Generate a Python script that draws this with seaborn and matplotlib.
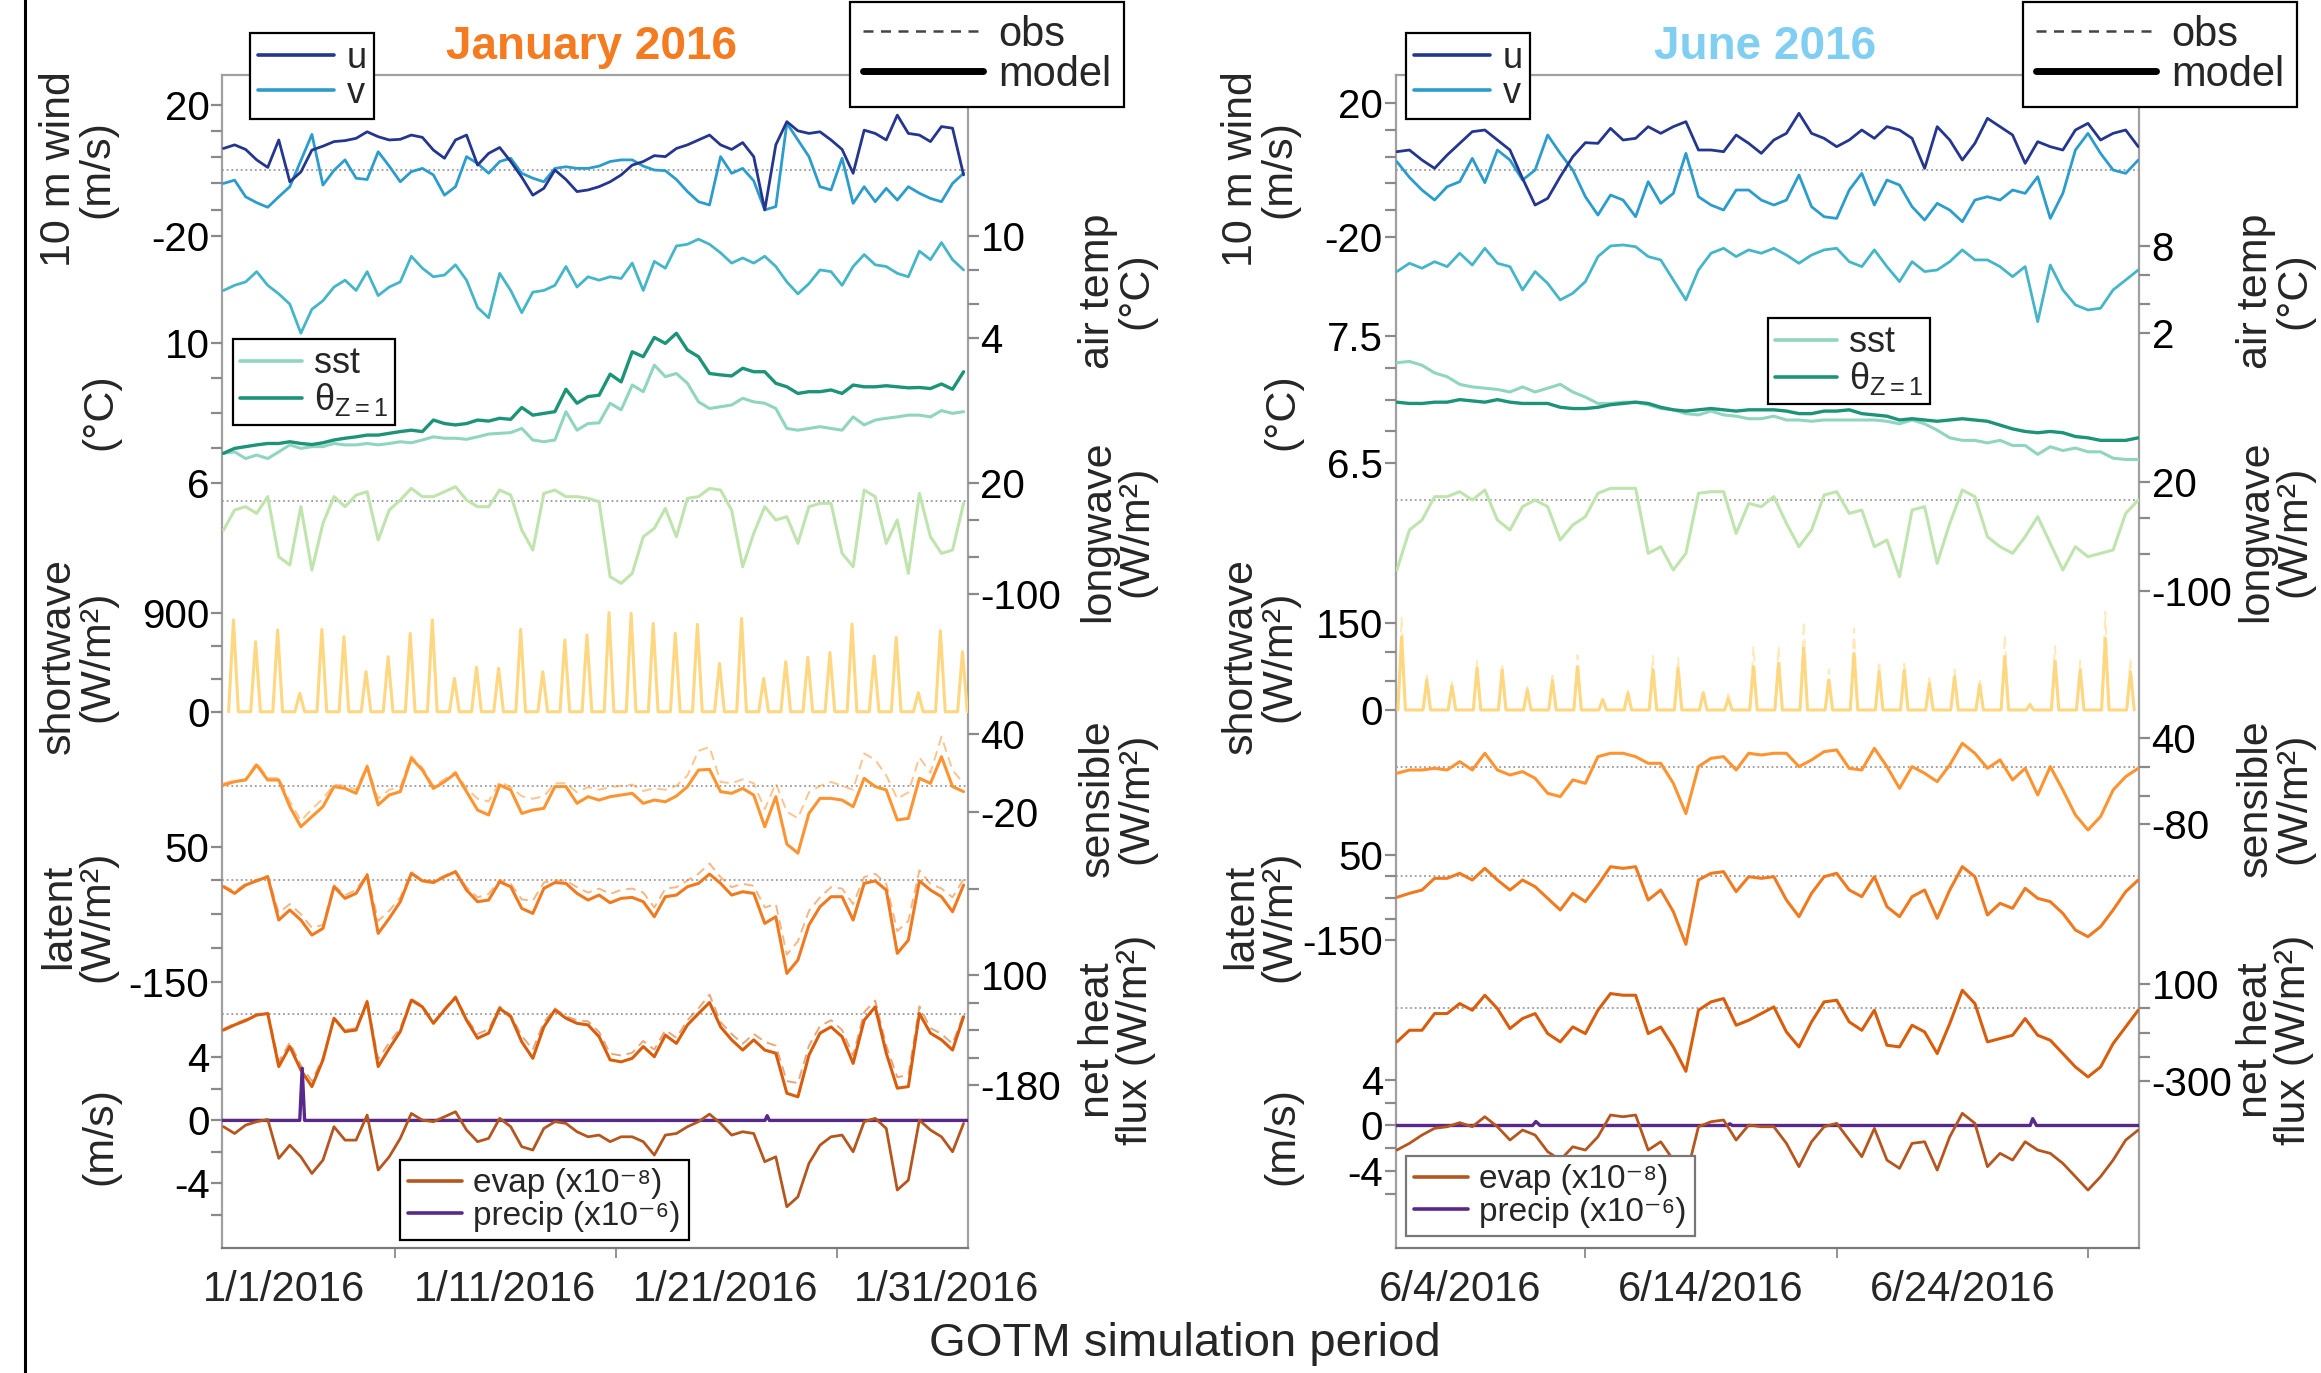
import numpy as np
import matplotlib
matplotlib.use("Agg")
import matplotlib.pyplot as plt
import seaborn as sns
from matplotlib.lines import Line2D

sns.set_theme(style="white")
plt.rcParams['font.family'] = ['Liberation Sans', 'DejaVu Sans']
plt.rcParams['axes.unicode_minus'] = False
plt.rcParams['mathtext.fontset'] = 'custom'
plt.rcParams['mathtext.rm'] = 'Liberation Sans'
plt.rcParams['mathtext.it'] = 'Liberation Sans:italic'

# ------------------------------------------------------------------ DATA
# January 2016 (days since 2016-01-01 00:00, 12-hourly)
t_jan = np.arange(68) * 0.5 - 2.75
u_jan = [6.7, 7.8, 6.4, 3.2, 0.9, 9.3, -3.5, -0.5, 6.2, 7.4, 8.8, 9.1, 9.8, 11.8, 10.3, 9.3, 9.5, 10.8, 10.1, 6.2,
         3.7, 9.3, 10.8, 1.6, 5.2, 7.0, 2.7, -2.1, -7.6, -5.5, 0.1, -2.8, -6.5, -6.0, -5.0, -3.5, -1.4, 1.6, 2.7, 4.5,
         4.2, 6.7, 7.8, 9.3, 10.8, 7.8, 6.4, 8.5, 4.2, -12.1, 7.8, 14.9, 12.1, 11.3, 11.8, 9.3, 6.4, -0.9, 12.3, 11.3,
         9.3, 16.9, 11.3, 10.8, 8.8, 13.4, 12.9, -1.4]
v_jan = [-4.0, -3.0, -8.1, -9.9, -11.3, -8.1, -5.0, 3.0, 11.0, -4.5, 0.0, 3.2, -2.4, -2.8, 5.7, 1.3, -3.5, -0.4, 0.6, -1.4,
         -7.6, -5.0, 4.2, 2.1, -0.9, 2.7, 3.7, -0.9, -2.4, -3.5, 0.6, 1.1, 0.6, 0.6, 1.3, 2.7, 3.2, 3.2, 1.3, 0.1,
         -0.1, -2.8, -6.5, -9.6, -10.6, 4.2, -0.9, 0.6, -3.2, -12.1, -11.1, 14.4, 9.3, 4.2, -5.0, -6.0, 3.7, -10.1, -5.0, -9.6,
         -5.5, -9.1, -5.0, -7.0, -8.6, -9.6, -4.0, -0.9]
airt_jan = [6.8, 7.1, 7.3, 7.9, 7.1, 6.6, 6.0, 4.3, 5.7, 6.2, 7.0, 7.4, 6.8, 7.9, 6.5, 7.0, 7.3, 8.8, 8.1, 7.6,
            7.7, 8.3, 7.4, 5.8, 5.2, 7.8, 6.8, 5.5, 6.7, 6.8, 7.1, 8.2, 7.0, 7.6, 7.4, 7.6, 7.5, 8.4, 6.8, 8.5,
            8.1, 9.4, 9.5, 9.8, 9.5, 9.0, 8.4, 8.7, 8.4, 8.8, 8.2, 7.3, 6.6, 7.2, 8.0, 7.9, 7.1, 8.2, 8.9, 8.3,
            8.2, 7.8, 7.6, 9.1, 8.6, 9.6, 8.6, 8.0]
sst_jan = [6.86, 6.90, 6.71, 6.81, 6.71, 6.90, 7.10, 7.00, 7.05, 7.05, 7.14, 7.10, 7.10, 7.14, 7.10, 7.14, 7.19, 7.16, 7.24, 7.33,
           7.29, 7.29, 7.26, 7.33, 7.41, 7.43, 7.45, 7.57, 7.24, 7.19, 7.24, 8.05, 7.52, 7.71, 7.73, 8.29, 8.10, 8.81, 8.62, 9.38,
           9.05, 9.14, 8.86, 8.33, 8.14, 8.19, 8.24, 8.43, 8.33, 8.29, 8.14, 7.57, 7.52, 7.57, 7.62, 7.57, 7.52, 7.90, 7.67, 7.81,
           7.86, 7.90, 7.95, 7.95, 7.90, 8.08, 8.00, 8.05]
theta_jan = [6.86, 7.00, 7.05, 7.10, 7.14, 7.14, 7.19, 7.14, 7.11, 7.16, 7.24, 7.29, 7.33, 7.38, 7.38, 7.43, 7.48, 7.52, 7.48, 7.81,
             7.71, 7.67, 7.71, 7.81, 7.78, 7.86, 7.83, 8.17, 7.95, 8.00, 8.05, 8.69, 8.29, 8.48, 8.52, 9.12, 8.90, 9.76, 9.62, 10.17,
             10.00, 10.29, 9.81, 9.62, 9.14, 9.10, 9.07, 9.29, 9.19, 9.19, 8.86, 8.76, 8.57, 8.62, 8.62, 8.67, 8.57, 8.81, 8.76, 8.76,
             8.79, 8.76, 8.73, 8.74, 8.71, 8.84, 8.69, 9.19]
lw_jan = [-30.9, -9.4, -5.8, -13.0, 5.0, -59.6, -68.5, -5.8, -73.9, -23.7, 5.0, -5.8, 6.7, 10.3, -41.6, -9.4, 1.4, 13.9, 5.0, 5.0,
          10.3, 15.7, 1.4, -5.8, -5.8, 12.1, 6.7, -30.9, -52.4, 8.5, 12.1, 5.0, 5.0, 3.2, -0.4, -81.1, -88.2, -77.5, -38.1, -29.1,
          -7.6, -38.1, 3.2, 5.0, 13.9, 12.1, -9.4, -70.3, -34.5, -5.8, -20.1, -16.6, -45.2, -5.8, -2.2, -2.2, -56.0, -70.3, 12.1, 5.0,
          -45.2, -20.1, -77.5, 8.5, -38.1, -56.0, -52.4, -2.2]
sw_jan_peak_day = np.arange(34) - 2.3
sw_jan_peak = [839, 640, 747, 168, 753, 686, 366, 503, 717, 839, 305, 406, 397, 753, 366, 656, 702, 906, 900, 808,
               717, 799, 442, 854, 305, 458, 497, 540, 802, 509, 680, 174, 741, 549]
sens_jan = [0.6, 3.2, 4.5, 16.1, 4.5, 4.5, -16.1, -31.6, -23.8, -16.1, -0.6, -2.0, -5.8, 14.8, -14.8, -7.1, -4.5, 21.2, 12.2, -2.0,
            3.2, 9.6, -4.5, -18.7, -22.5, 0.6, -3.2, -21.3, -18.7, -17.4, -0.6, -0.6, -13.5, -8.4, -11.0, -8.4, -7.1, -5.8, -13.5, -11.0,
            -12.3, -7.9, -0.6, 12.2, 12.7, -4.5, -5.8, -2.0, -7.1, -31.6, -8.4, -45.0, -52.0, -21.3, -9.7, -9.7, -11.0, -16.1, 5.8, -0.6,
            -3.2, -26.4, -25.1, 5.8, 1.9, 22.5, -0.6, -4.5]
sens_obs_jan = [2, 4, 5, 18, 6, 6, -12, -27, -18, -10, 1, 0, -3, 16, -10, -3, -1, 23, 14, 0,
                5, 11, -2, -10, -12, 3, -1, -8, -10, -8, 2, 2, -5, -1, -3, -1, 0, 1, -4, -2,
                -3, 0, 8, 27, 30, 3, 2, 5, 2, -18, 2, -20, -25, -5, 0, 3, 0, -3, 25, 20,
                8, -10, -5, 22, 10, 38, 12, 2]
lat_jan = [-9.3, -19.1, -6.8, -0.6, 5.6, -58.6, -43.8, -58.6, -80.9, -71.0, -9.3, -26.5, -19.1, 8.0, -78.4, -56.2, -31.5, 10.5, -0.6, -3.1,
           5.6, 13.0, -14.2, -31.5, -29.0, -1.9, -9.3, -41.4, -48.8, -11.7, -3.1, -4.3, -19.1, -29.0, -21.6, -33.0, -26.5, -25.1, -31.5, -53.7,
           -24.1, -21.6, -9.3, -4.3, 9.5, -4.3, -21.6, -16.7, -19.1, -63.6, -53.7, -137.7, -117.9, -66.0, -38.9, -24.1, -24.1, -58.6, -4.3, -0.6,
           -14.2, -108.0, -88.3, -0.6, -14.2, -24.1, -46.3, -6.8]
lat_obs_jan = [-8, -16, -5, 1, 7, -48, -35, -50, -70, -66, -7, -22, -14, 10, -60, -45, -25, 12, 1, -1,
               7, 14, -10, -25, -20, 1, -5, -28, -30, -3, 0, 0, -10, -18, -12, -20, -14, -12, -18, -40,
               -12, -10, 0, 10, 25, 5, -10, -5, -8, -40, -35, -110, -90, -45, -25, -10, -12, -35, 5, 10,
               -5, -75, -60, 15, -5, -12, -25, 2]
net_jan = [-40, -27, -16, -2, 2, -133, -82, -142, -184, -116, -10, -44, -40, 32, -133, -87, -44, 36, 19, -23,
           11, 43, -15, -61, -48, 15, -6, -70, -112, -32, 11, -10, -23, -27, -57, -116, -121, -112, -82, -108,
           -53, -74, -27, 2, 30, -32, -65, -91, -65, -91, -99, -201, -210, -104, -48, -32, -57, -125, -15, 19,
           -99, -188, -184, 2, -48, -65, -91, -6]
net_obs_jan = [-37, -24, -13, 0, 4, -120, -72, -130, -170, -110, -8, -40, -35, 35, -115, -72, -35, 40, 22, -20,
               14, 46, -10, -50, -38, 20, -2, -55, -90, -20, 15, -5, -15, -18, -45, -100, -105, -98, -68, -90,
               -40, -60, -15, 15, 50, -20, -50, -75, -50, -70, -80, -170, -175, -80, -30, -15, -40, -105, 5, 35,
               -80, -160, -155, 20, -35, -50, -75, 0]
evap_jan = [-0.40, -0.83, -0.30, -0.08, 0.06, -2.41, -1.57, -2.31, -3.37, -2.52, -0.40, -1.25, -1.25, 0.34, -3.15, -2.31, -1.14, 0.44, 0.02, -0.08,
            0.23, 0.55, -0.61, -1.35, -1.14, 0.13, -0.40, -1.67, -1.88, -0.51, -0.08, -0.19, -0.72, -1.04, -0.93, -1.35, -1.04, -1.04, -1.35, -2.20,
            -0.93, -0.83, -0.40, -0.08, 0.40, -0.19, -0.93, -0.72, -0.83, -2.62, -2.31, -5.48, -4.85, -2.73, -1.57, -1.04, -0.93, -1.99, -0.08, 0.13,
            -0.51, -4.42, -3.79, 0.02, -0.61, -1.04, -1.99, -0.19]
precip_jan_t = [-2.82, 0.70, 0.81, 0.92, 21.76, 21.86, 21.96, 30.95]
precip_jan = [0, 0, 3.3, 0, 0, 0.3, 0, 0]

# June 2016 (days since 2016-06-01 00:00, 12-hourly)
t_jun = np.arange(60) * 0.5 + 0.5
u_jun = [5.5, 6.0, 3.0, 0.5, 4.5, 8.0, 11.5, 12.0, 9.0, 6.0, -2.5, -10.5, -8.5, -2.0, 4.0, 8.2, 8.0, 12.5, 9.0, 9.5,
         13.0, 11.0, 13.0, 14.5, 6.0, 6.0, 5.5, 10.5, 8.0, 5.0, 9.0, 11.0, 17.0, 11.0, 9.5, 7.0, 9.0, 12.0, 9.5, 13.0,
         12.0, 9.5, 0.5, 13.0, 9.0, 3.0, 8.0, 15.5, 13.0, 10.5, 2.0, 8.5, 7.0, 6.0, 12.0, 14.0, 9.0, 11.0, 12.0, 7.0]
v_jun = [2.5, -2.2, -6.0, -9.0, -5.0, -3.5, 3.5, -3.8, 6.0, 3.0, -3.0, 0.0, 10.5, 5.0, 0.0, -8.0, -13.5, -7.5, -9.0, -14.0,
         -3.5, -10.0, -7.0, 5.0, -8.0, -10.5, -12.0, -6.0, -6.0, -9.0, -10.5, -9.0, -1.5, -11.0, -14.0, -14.5, -6.0, -1.0, -10.5, -3.0,
         -4.5, -11.0, -15.0, -10.0, -12.0, -15.5, -9.0, -8.0, -9.0, -6.0, -7.0, -2.0, -14.5, -7.0, 6.0, 11.0, 5.0, 0.0, -1.0, 3.0]
airt_jun = [6.24, 6.81, 6.47, 6.92, 6.58, 7.50, 6.69, 7.84, 6.81, 6.58, 4.98, 6.24, 5.43, 4.29, 4.75, 5.55, 7.27, 8.00, 8.07, 7.95,
            7.27, 7.04, 5.66, 4.29, 6.35, 7.50, 7.84, 7.27, 7.73, 7.50, 7.84, 7.38, 6.81, 7.38, 7.73, 7.84, 6.92, 6.58, 7.73, 6.58,
            5.55, 6.92, 6.24, 6.35, 6.92, 7.73, 7.04, 7.04, 6.58, 5.89, 6.58, 2.8, 6.69, 4.98, 3.95, 3.60, 3.72, 4.98, 5.66, 6.35]
sst_jun = [7.29, 7.30, 7.27, 7.21, 7.18, 7.12, 7.10, 7.09, 7.08, 7.06, 7.10, 7.06, 7.09, 7.12, 7.06, 7.02, 6.97, 6.97, 6.98, 6.98,
           6.96, 6.93, 6.92, 6.89, 6.88, 6.91, 6.88, 6.87, 6.85, 6.85, 6.87, 6.84, 6.84, 6.83, 6.84, 6.84, 6.84, 6.84, 6.84, 6.83,
           6.81, 6.84, 6.81, 6.76, 6.70, 6.68, 6.68, 6.66, 6.68, 6.64, 6.64, 6.57, 6.63, 6.60, 6.62, 6.59, 6.59, 6.54, 6.53, 6.53]
theta_jun = [6.98, 6.97, 6.97, 6.98, 6.98, 7.00, 6.99, 6.98, 7.00, 6.98, 6.97, 6.97, 6.97, 6.94, 6.93, 6.93, 6.94, 6.96, 6.97, 6.98,
             6.97, 6.94, 6.92, 6.91, 6.92, 6.93, 6.92, 6.91, 6.92, 6.92, 6.92, 6.91, 6.89, 6.89, 6.91, 6.91, 6.92, 6.89, 6.88, 6.87,
             6.84, 6.85, 6.84, 6.83, 6.84, 6.85, 6.84, 6.83, 6.80, 6.77, 6.75, 6.74, 6.75, 6.74, 6.71, 6.70, 6.68, 6.68, 6.68, 6.70]
lw_jun = [-77.2, -33.2, -22.2, 3.5, 3.5, 9.0, -0.2, 10.8, -22.2, -33.2, -7.5, -0.2, -7.5, -44.2, -27.7, -18.5, 7.2, 12.7, 12.7, 12.7,
          -58.9, -51.6, -77.2, -58.9, 7.2, 9.0, 9.0, -36.9, -3.9, -7.5, 3.5, -25.9, -51.6, -33.2, 5.3, 9.0, -14.9, -11.2, -51.6, -44.2,
          -84.6, -11.2, -7.5, -69.9, -25.9, 10.8, 3.5, -40.6, -51.6, -58.9, -40.6, -18.5, -47.9, -77.2, -51.6, -62.6, -58.9, -55.2, -14.9, -0.2]
sw_jun_peak_day = np.arange(30) + 0.69
sw_jun_peak = [127, 52, 42, 72, 69, 35, 51, 75, 18, 29, 70, 72, 30, 20, 75, 81, 107, 52, 98, 66,
               69, 46, 58, 43, 92, 9, 84, 69, 124, 66]
sw_jun_obs_peak = [161, 60, 48, 85, 80, 40, 60, 95, 20, 35, 95, 90, 35, 28, 110, 110, 153, 70, 141, 85,
                   80, 55, 70, 55, 130, 12, 110, 85, 170, 90]
sens_jun = [-8.8, -4.2, -4.2, -1.9, -4.2, 7.4, -4.2, 19.1, -4.2, -11.2, -6.5, -15.8, -36.7, -41.4, -18.1, -22.8, 14.4, 19.1, 19.1, 14.4,
            5.1, 5.1, -22.8, -65.0, 0.5, 12.1, 14.4, -4.2, 19.1, 16.7, 19.1, 19.1, 0.5, 9.8, 21.4, 23.7, -1.9, -4.2, 26.0, 0.5,
            -29.8, 0.5, -8.8, -20.5, 2.8, 33.0, 19.1, -1.9, 9.8, -18.1, -1.9, -39.1, 0.5, -32.1, -67.0, -87.9, -69.3, -32.1, -13.5, -1.9]
lat_jun = [-49.6, -40.2, -32.4, -4.9, -4.9, 6.9, -8.8, 18.6, -8.8, -32.4, -8.8, -24.5, -52.0, -79.4, -40.2, -59.8, -20.6, 22.5, 18.6, 22.5,
           -55.9, -32.4, -83.3, -160.0, -8.8, 6.9, 10.8, -36.3, -1.0, -4.9, -1.0, -55.9, -95.1, -40.2, -1.0, 6.9, -32.4, -48.0, -1.0, -71.6,
           -95.1, -48.0, -32.4, -99.0, -32.4, 22.5, -1.0, -91.2, -63.7, -75.5, -28.4, -52.0, -59.8, -87.3, -126.5, -142.2, -118.6, -79.4, -36.3, -8.8]
net_jun = [-138.5, -90.3, -90.3, -21.3, -21.3, 20.0, -7.5, 54.5, -0.7, -83.4, -42.0, -21.3, -104.1, -138.5, -76.5, -104.1, -7.5, 61.4, 54.5, 54.5,
           -104.1, -76.5, -159.2, -260.0, -7.5, 26.9, 40.7, -69.6, -48.9, -21.3, 6.2, -97.2, -159.2, -55.8, 26.9, 33.8, -55.8, -90.3, -7.5, -152.3,
           -159.2, -69.6, -97.2, -186.8, -62.7, 75.2, 20.0, -138.5, -124.7, -111.0, -42.0, -111.0, -131.6, -186.8, -242.0, -283.3, -242.0, -145.4, -76.5, -7.5]
evap_jun = [-2.16, -1.57, -0.84, -0.25, -0.11, 0.25, -0.11, 0.77, -0.11, -1.28, -0.40, -0.84, -2.30, -3.04, -1.87, -2.16, -0.99, 0.92, 0.77, 0.92,
            -2.16, -1.43, -3.04, -4.6, -0.11, 0.33, 0.48, -1.28, 0.04, -0.11, -0.11, -1.57, -3.62, -1.43, -0.11, 0.19, -1.28, -2.74, -0.25, -3.04,
            -3.77, -1.57, -1.43, -3.92, -0.99, 1.07, 0.19, -3.62, -2.45, -3.04, -1.43, -2.16, -2.45, -3.33, -4.50, -5.68, -4.50, -3.04, -1.28, -0.40]
precip_jun_t = [0.45, 5.9, 6.03, 6.2, 13.65, 13.75, 13.85, 25.7, 25.8, 25.95, 30.03]
precip_jun = [0, 0, 0.35, 0, 0, 0.15, 0, 0, 0.6, 0, 0]

jan_ticks = [0, 10, 20, 30]
jan_ticklabels = ['1/1/2016', '1/11/2016', '1/21/2016', '1/31/2016']
jun_ticks = [3, 13, 23]
jun_ticklabels = ['6/4/2016', '6/14/2016', '6/24/2016']

# ------------------------------------------------------------------ STYLE
C = dict(u='#24368e', v='#2b9ccc', airt='#45b5c8', sst='#90d5c0', theta='#1d9377', lw='#bfe4ae',
         sw='#fed780', sens='#fd9431', lat='#f07a20', net='#d85e0e', evap='#b5561f', precip='#58288a')
W, H = 2321, 1373
fig = plt.figure(figsize=(W / 100, H / 100), dpi=100)
fig.patch.set_facecolor('white')


def fx(p):
    return p / W


def fy(p):
    return 1 - p / H


TICK_FS = 29
LAB_FS = 31
GREY = '#8a8a8a'


def diurnal(days, peaks, half):
    tt, vv = [], []
    for d, p in zip(days, peaks):
        tt += [d - half, d, d + half]
        vv += [0.0, p, 0.0]
    return tt, vv


def overlay(rect, xlim, ylim, side, major, minor, zero=False):
    ax = fig.add_axes(rect, facecolor='none')
    ax.patch.set_visible(False)
    for s in ax.spines.values():
        s.set_visible(False)
    ax.set_xlim(*xlim)
    ax.set_ylim(*ylim)
    ax.xaxis.set_visible(False)
    ax.yaxis.set_ticks_position(side)
    ax.set_yticks(major, [('%g' % m) for m in major])
    ax.set_yticks(minor, minor=True)
    ax.tick_params(axis='y', which='both', direction='out', length=8, width=1.6, color=GREY,
                   labelsize=TICK_FS, pad=1, labelcolor='black')
    if zero:
        ax.axhline(0, color='#9a9a9a', lw=1.3, ls=(0, (1, 1.6)), zorder=0.5)
    return ax


def line(ax, x, y, color, lw=2.0, obs=False):
    if obs:
        sns.lineplot(x=list(x), y=list(y), ax=ax, color=color, linewidth=1.4, alpha=0.55,
                     linestyle=(0, (5, 3)), estimator=None, sort=False, legend=False)
    else:
        sns.lineplot(x=list(x), y=list(y), ax=ax, color=color, linewidth=lw,
                     estimator=None, sort=False, legend=False)
    ax.set_xlabel('')
    ax.set_ylabel('')


def panel(left, right, xlim, cfg, data, xt, xtl, minors, mids):
    rect = [fx(left), fy(1248), fx(right) - fx(left), (1248 - 75) / H]
    ax0 = fig.add_axes(rect)
    ax0.set_facecolor('white')
    ax0.set_xlim(*xlim)
    ax0.set_ylim(0, 1)
    ax0.set_yticks([])
    for k, s in ax0.spines.items():
        s.set_visible(True)
        s.set_linewidth(1.6)
        s.set_color('#a0a0a0' if k != 'bottom' else '#7a7a7a')
    ax0.set_xticks(xt, xtl)
    ax0.set_xticks(minors, minor=True)
    ax0.tick_params(axis='x', which='major', direction='in', length=10, width=2.2, color='black',
                    labelsize=TICK_FS + 1, pad=16)
    ax0.tick_params(axis='x', which='minor', direction='out', length=4, width=1.2, color=GREY)
    sec = ax0.secondary_xaxis('bottom')
    sec.set_xticks(mids, [''] * len(mids))
    sec.tick_params(axis='x', direction='out', length=7, width=1.3, color=GREY)
    sec.spines['bottom'].set_visible(False)

    axes = {}
    for name, (ylim, side, major, minor, zero) in cfg.items():
        axes[name] = overlay(rect, xlim, ylim, side, major, minor, zero)

    t = data['t']
    line(axes['wind'], t, data['v'], C['v'])
    line(axes['wind'], t, data['u'], C['u'])
    line(axes['airt'], t, data['airt'], C['airt'])
    line(axes['sst'], t, data['sst'], C['sst'], lw=2.2)
    line(axes['sst'], t, data['theta'], C['theta'], lw=2.4)
    line(axes['lw'], t, data['lw'], C['lw'], lw=2.2)
    if 'sw_obs' in data:
        line(axes['sw'], data['sw_obs'][0], data['sw_obs'][1], C['sw'], obs=True)
    line(axes['sw'], data['sw'][0], data['sw'][1], C['sw'], lw=2.2)
    for key in ['sens', 'lat', 'net']:
        if key + '_obs' in data:
            line(axes[key], t, data[key + '_obs'], C[key], obs=True)
        line(axes[key], t, data[key], C[key], lw=2.2)
    line(axes['evap'], data['precip'][0], data['precip'][1], C['precip'], lw=2.4)
    line(axes['evap'], t, data['evap'], C['evap'], lw=2.0)
    return ax0


cfg_jan = {
    'wind': ((-329.8, 29.18), 'left', [20, -20], [12, 4, -4, -12], True),
    'airt': ((-49.2, 19.4), 'right', [10, 4], [8, 6], False),
    'sst': ((-15.85, 17.67), 'left', [10, 6], [9, 8, 7], False),
    'lw': ((-802.9, 458.4), 'right', [20, -100], [-20, -60], True),
    'sw': ((-4905, 5823.6), 'left', [900, 0], [600, 300], False),
    'sens': ((-356.9, 548.9), 'right', [40, -20], [-80], True),
    'lat': ((-544.5, 1193.3), 'left', [50, -150], [0, -50, -100], True),
    'net': ((-594.8, 2390.7), 'right', [100, -180], [30, -40, -110], True),
    'evap': ((-8.1, 66.37), 'left', [4, 0, -4], [2, -2, -6], False),
}
cfg_jun = {
    'wind': ((-323.2, 28.49), 'left', [20, -20], [12, 4, -4, -12], True),
    'airt': ((-60.87, 19.75), 'right', [8, 2], [6, 4], False),
    'sst': ((0.336, 9.55), 'left', [7.5, 6.5], [7.25, 7.0, 6.75], False),
    'lw': ((-823.6, 467.7), 'right', [20, -100], [-20, -60], True),
    'sw': ((-930.8, 1098.6), 'left', [150, 0], [100, 50], False),
    'sens': ((-671.2, 965.5), 'right', [40, -80], [0, -40], True),
    'lat': ((-874.7, 1885.3), 'left', [50, -150], [0, -50, -100], True),
    'net': ((-990.8, 3860), 'right', [100, -300], [0, -100, -200], True),
    'evap': ((-10.77, 92.35), 'left', [4, 0, -4], [2, -2, -6], False),
}

data_jan = dict(t=t_jan, u=u_jan, v=v_jan, airt=airt_jan, sst=sst_jan, theta=theta_jan, lw=lw_jan,
                sw=diurnal(sw_jan_peak_day, sw_jan_peak, 0.22), sens=sens_jan, sens_obs=sens_obs_jan,
                lat=lat_jan, lat_obs=lat_obs_jan, net=net_jan, net_obs=net_obs_jan, evap=evap_jan,
                precip=(precip_jan_t, precip_jan))
data_jun = dict(t=t_jun, u=u_jun, v=v_jun, airt=airt_jun, sst=sst_jun, theta=theta_jun, lw=lw_jun,
                sw=diurnal(sw_jun_peak_day, sw_jun_peak, 0.15), sw_obs=diurnal(sw_jun_peak_day, sw_jun_obs_peak, 0.15),
                sens=sens_jun, lat=lat_jun, net=net_jun, evap=evap_jun, precip=(precip_jun_t, precip_jun))

panel(222, 968, (-2.82, 30.95), cfg_jan, data_jan, jan_ticks, jan_ticklabels,
      list(range(-2, 31)), [5, 15, 25])
panel(1395.5, 2139, (0.445, 30.03), cfg_jun, data_jun, jun_ticks, jun_ticklabels,
      list(range(1, 31)), [8, 18, 28])

# ------------------------------------------------------------------ TEXT
fig.text(fx(592), fy(47), 'January 2016', color='#f47b20', fontsize=33, fontweight='bold', ha='center', va='center')
fig.text(fx(1765), fy(47), 'June 2016', color='#80cff3', fontsize=33, fontweight='bold', ha='center', va='center')
fig.text(fx(1185), fy(1344), 'GOTM simulation period', fontsize=34, ha='center', va='center')


def ylab(x, y, s):
    fig.text(fx(x), fy(y), s, rotation=90, ha='center', va='center', multialignment='center',
             fontsize=LAB_FS, linespacing=0.95)


for dx_l, dx_r in [(0, 0), (1182, 1158)]:
    ylab(78 + dx_l, 169, '10 m wind\n(m/s)')
    ylab(100 + dx_l, 412, '(°C)')
    ylab(78 + dx_l, 656, 'shortwave\n(W/m²)')
    ylab(78 + dx_l, 916, 'latent\n(W/m²)')
    ylab(100 + dx_l, 1136, '(m/s)')
    ylab(1117 + dx_r, 291, 'air temp\n(°C)')
    ylab(1117 + dx_r, 531, 'longwave\n(W/m²)')
    ylab(1117 + dx_r, 798, 'sensible\n(W/m²)')
    ylab(1117 + dx_r, 1040, 'net heat\nflux (W/m²)')

fig.add_artist(Line2D([fx(25), fx(25)], [0, 1], color='black', lw=2.2, transform=fig.transFigure))

# ------------------------------------------------------------------ LEGENDS


def legend(handles, labels, x, y, hl, fs=28, edge='black', ls=0.0, bp=0.25):
    lg = fig.legend(handles, labels, loc='upper left', bbox_to_anchor=(fx(x), fy(y)),
                    bbox_transform=fig.transFigure, frameon=True, fancybox=False, edgecolor=edge,
                    framealpha=1, facecolor='white', fontsize=fs, handlelength=hl, handletextpad=0.35,
                    labelspacing=ls, borderpad=bp, borderaxespad=0)
    lg.get_frame().set_linewidth(1.6)
    return lg


def L(c, lw=2.6, ls='-'):
    return Line2D([], [], color=c, lw=lw, linestyle=ls)


obs_h = [L('#444444', 1.8, (0, (4, 3))), L('black', 5.0)]
for dx, sstpos, evpos, evedge, obsx in [(0, (233, 339), (400, 1160), 'black', 850),
                                        (1156, (1768, 318), (1406, 1156), '#777777', 2023)]:
    legend([L(C['u']), L(C['v'])], ['u', 'v'], 250 + dx, 33, 2.1, fs=26, ls=0.0, bp=0.22)
    legend(obs_h, ['obs', 'model'], obsx, 2, 2.9, fs=30, ls=0.0, bp=0.3)
    legend([L(C['sst']), L(C['theta'])], ['sst', 'θ$_{\\mathrm{Z=1}}$'], sstpos[0], sstpos[1], 1.7,
           fs=26, ls=0.0, bp=0.2)
    legend([L(C['evap']), L(C['precip'])], ['evap (x10⁻⁸)', 'precip (x10⁻⁶)'],
           evpos[0], evpos[1], 1.6, fs=24, edge=evedge, ls=0.05, bp=0.25)

fig.savefig('out.png', dpi=100, facecolor='white')
